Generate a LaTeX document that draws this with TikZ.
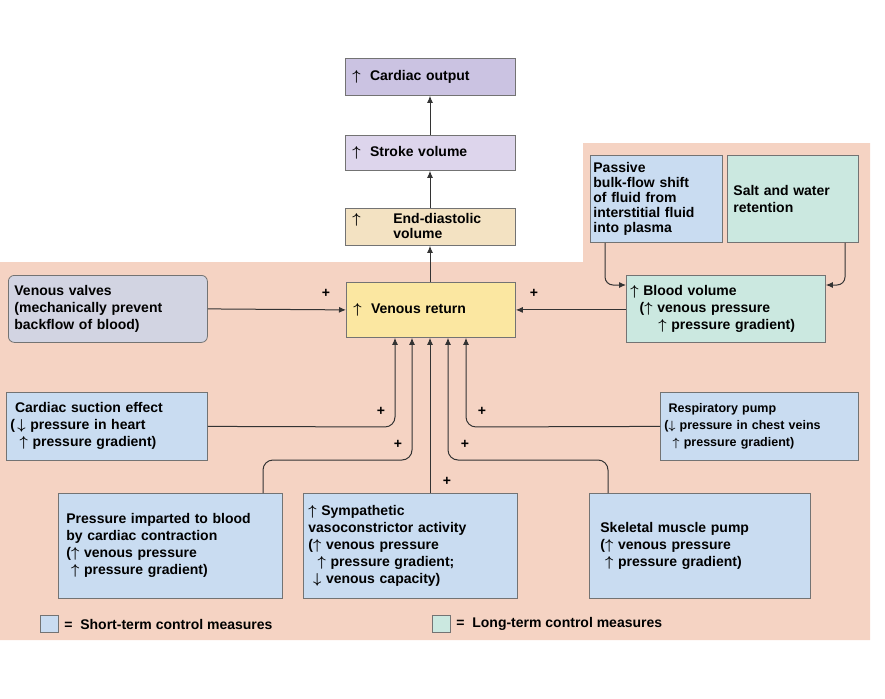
\documentclass[tikz,border=0pt]{standalone}
\usepackage{fontspec}
\setmainfont{Liberation Sans}
\usetikzlibrary{positioning,arrows.meta}
\definecolor{peach}{HTML}{F5D3C3}
\definecolor{shortc}{HTML}{C9DCF1}
\definecolor{longc}{HTML}{CBE8E0}
\definecolor{venc}{HTML}{FBE7A1}
\definecolor{lavc}{HTML}{DDD5EC}
\definecolor{lavd}{HTML}{CBC3E2}
\definecolor{tanc}{HTML}{F3E2C2}
\definecolor{greyc}{HTML}{D2D4E2}
\newcommand{\up}{$\boldsymbol{\uparrow}$}
\newcommand{\dn}{$\boldsymbol{\downarrow}$}
\usepackage{amsmath,amssymb}
\tikzset{
  box/.style={draw=black!55,line width=0.8pt,inner sep=4pt,align=left,anchor=north west,
    font=\bfseries\fontsize{14}{17}\selectfont},
  link/.style={-{Latex[length=7pt,width=6pt]},line width=1pt,draw=black!80},
  plus/.style={font=\bfseries\fontsize{14}{14}\selectfont}
}
\begin{document}
\begin{tikzpicture}[x=1pt,y=-1pt]
  \useasboundingbox (0,0) rectangle (885,698);
  % background
  \fill[peach] (0,262) -- (583,262) -- (583,143) -- (870,143) -- (870,640) -- (0,640) -- cycle;

  % central chain
  \node[box,fill=lavd,text width=156,minimum height=37,inner xsep=7pt] (co) at (345,58) {\up\ \ Cardiac output};
  \node[box,fill=lavc,text width=156,minimum height=35,inner xsep=7pt] (sv) at (345,135) {\up\ \ Stroke volume};
  \node[box,fill=tanc,text width=156,minimum height=37,inner xsep=7pt,inner ysep=1pt,font=\bfseries\fontsize{14}{15}\selectfont] (edv) at (345,208) {\up\qquad\ End-diastolic\\\phantom{\up}\qquad\ volume};
  \node[box,fill=venc,text width=155,minimum height=55,inner xsep=7pt] (vr) at (346,282) {\up\ \ Venous return};

  % sides
  \node[box,fill=greyc,rounded corners=6pt,text width=187,minimum height=67,inner xsep=6pt] (vv) at (8,275) {Venous valves\\(mechanically prevent\\backflow of blood)};
  \node[box,fill=shortc,text width=126,minimum height=87,inner sep=3pt,font=\bfseries\fontsize{14}{15}\selectfont] (pf) at (590,155) {Passive\\bulk-flow shift\\of fluid from\\interstitial fluid\\into plasma};
  \node[box,fill=longc,text width=119,minimum height=87,inner xsep=6pt] (sw) at (727,155) {Salt and water\\retention};
  \node[box,fill=longc,text width=191,minimum height=67,inner sep=4pt] (bv) at (626,275) {\up\ Blood volume\\\ \ (\up\ venous pressure\\\qquad\up\ pressure gradient)};
  \node[box,fill=shortc,text width=193,minimum height=68,inner sep=4pt] (cs) at (6,392) {\ Cardiac suction effect\\(\,\dn\ pressure in heart\\ \ \ \up\ pressure gradient)};
  \node[box,fill=shortc,text width=190,minimum height=68,inner sep=4pt,font=\bfseries\fontsize{12.5}{17}\selectfont] (rp) at (660,392) {\ Respiratory pump\\(\dn\ pressure in chest veins\\ \ \ \up\ pressure gradient)};
  \node[box,fill=shortc,text width=208,minimum height=105,inner sep=8pt] (pi) at (58,493) {Pressure imparted to blood\\by cardiac contraction\\(\up\ venous pressure\\ \ \up\ pressure gradient)};
  \node[box,fill=shortc,text width=204,minimum height=105,inner sep=5pt] (sa) at (303,493) {\up\ Sympathetic\\vasoconstrictor activity\\(\up\ venous pressure\\ \ \ \up\ pressure gradient;\\ \ \dn\ venous capacity)};
  \node[box,fill=shortc,text width=199,minimum height=105,inner xsep=11pt] (sm) at (589,493) {Skeletal muscle pump\\(\up\ venous pressure\\ \ \up\ pressure gradient)};

  % legend
  \node[box,fill=shortc,minimum width=18,minimum height=17,inner sep=0pt] (ls) at (40,615) {};
  \node[box,draw=none,anchor=west] (lst) at (60,624) {=\ \ Short-term control measures};
  \node[box,fill=longc,minimum width=18,minimum height=17,inner sep=0pt] (ll) at (432,615) {};
  \node[box,draw=none,anchor=west] (llt) at (452,624) {=\ \ Long-term control measures};

  % connectors
  \draw[link] (vr.north -| 430,0) -- (edv.south -| 430,0);
  \draw[link] (edv.north -| 430,0) -- (sv.south -| 430,0);
  \draw[link] (sv.north -| 430,0) -- (co.south -| 430,0);
  \draw[link] (vv.east) -- (vr.west);
  \draw[link] (bv.west |- vr.west) -- (vr.east);
  \draw[link,rounded corners=8pt] (pf.south -| 605,0) -- (605,285) -- (bv.west |- 0,285);
  \draw[link,rounded corners=8pt] (sw.south -| 845,0) -- (845,285) -- (bv.east |- 0,285);
  \draw[link,rounded corners=10pt] (cs.east) -- (395,427) -- (vr.south -| 395,0);
  \draw[link,rounded corners=10pt] (pi.north -| 263,0) -- (263,460) -- (412,460) -- (vr.south -| 412,0);
  \draw[link] (sa.north -| 430,0) -- (vr.south -| 430,0);
  \draw[link,rounded corners=10pt] (sm.north -| 608,0) -- (608,460) -- (448,460) -- (vr.south -| 448,0);
  \draw[link,rounded corners=10pt] (rp.west) -- (466,427) -- (vr.south -| 466,0);

  % signs
  \node[plus] (p1) at (326,293) {+};
  \node[plus] (p2) at (534,293) {+};
  \node[plus] (p3) at (381,411) {+};
  \node[plus] (p4) at (398,444) {+};
  \node[plus] (p5) at (447,481) {+};
  \node[plus] (p6) at (482,411) {+};
  \node[plus] (p7) at (465,444) {+};
\end{tikzpicture}
\end{document}
